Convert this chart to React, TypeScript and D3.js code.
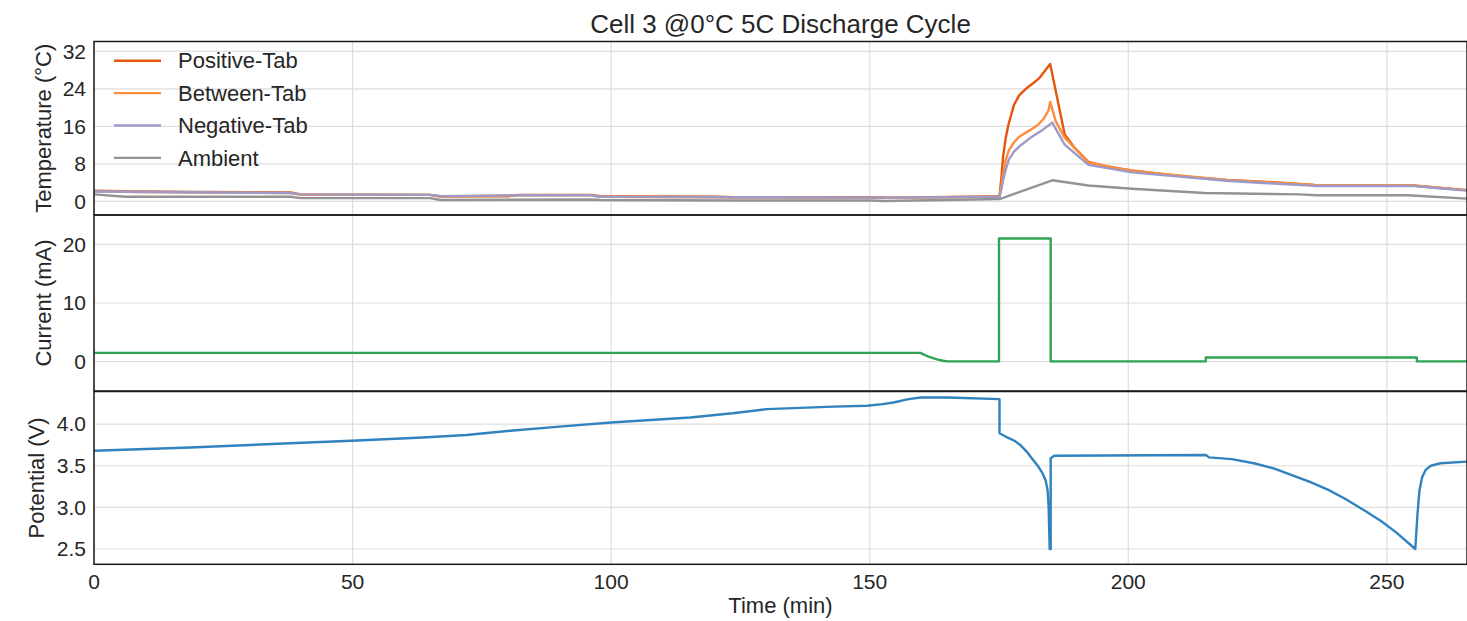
import React from "react";
import * as d3 from "d3";

// ---- data (time in minutes) ----
const timeTicks = [0, 50, 100, 150, 200, 250];
const tempTicks = [0, 8, 16, 24, 32];
const currentTicks = [0, 10, 20];
const potentialTicks = [2.5, 3.0, 3.5, 4.0];

const positiveTab: [number, number][] = [
  [0, 2.3], [8, 2.1], [20, 2.0], [38, 1.9], [40, 1.5], [65, 1.4], [67, 1.1], [80, 1.1], [82, 1.4],
  [96, 1.4], [98, 1.1], [120, 1.0], [124, 0.9], [150, 0.9], [153, 0.8], [170, 1.0], [175.1, 1.1],
  [175.5, 5.5], [175.8, 9.6], [176.3, 13.5], [176.9, 16.7], [177.9, 20.6], [178.9, 22.6],
  [180.4, 24.2], [181.6, 25.2], [182.8, 26.3], [184.2, 28.3], [184.9, 29.3], [187.7, 14.3],
  [189.5, 11.6], [192.3, 8.4], [196, 7.4], [200.7, 6.6], [210, 5.4], [219, 4.6], [228, 4.1],
  [236, 3.5], [250, 3.4], [255, 3.4], [260, 2.9], [265.5, 2.4],
];

const betweenTab: [number, number][] = [
  [0, 2.2], [8, 2.0], [38, 1.8], [40, 1.4], [65, 1.4], [67, 1.0], [82, 1.3], [96, 1.3], [98, 1.0],
  [124, 0.9], [153, 0.8], [175.1, 1.0], [175.5, 3.5], [175.8, 6.0], [176.3, 8.8], [176.9, 10.9],
  [177.9, 12.6], [178.9, 13.8], [181, 15.2], [182.5, 16.3], [183.7, 17.7], [184.6, 19.5],
  [184.9, 21.2], [186, 17.0], [187.7, 13.6], [192.3, 8.3], [200.7, 6.5], [219, 4.6], [236, 3.5],
  [255, 3.4], [260, 2.9], [265.5, 2.4],
];

const negativeTab: [number, number][] = [
  [0, 2.1], [38, 1.8], [40, 1.5], [65, 1.4], [67, 1.1], [82, 1.3], [96, 1.3], [98, 1.0], [124, 0.9],
  [153, 0.8], [175.1, 1.0], [175.5, 2.8], [175.8, 4.5], [176.3, 6.8], [176.9, 8.9], [177.9, 10.6],
  [178.9, 11.7], [181, 13.5], [183.5, 15.3], [185.3, 16.8], [187.7, 12.1], [192.3, 7.8],
  [200.7, 6.2], [219, 4.4], [236, 3.3], [255, 3.3], [260, 2.8], [265.5, 2.3],
];

const ambient: [number, number][] = [
  [0, 1.5], [6, 1.0], [38, 1.0], [40, 0.7], [65, 0.7], [67, 0.3], [96, 0.4], [98, 0.3], [124, 0.2],
  [150, 0.2], [153, 0.1], [170, 0.4], [175.1, 0.5], [185.3, 4.5], [192.3, 3.4], [200.7, 2.7],
  [214.7, 1.8], [233, 1.5], [236.4, 1.3], [254, 1.3], [265.5, 0.6],
];

const current: [number, number][] = [
  [0, 1.5], [159.8, 1.5], [160.5, 1.2], [161.5, 0.8], [163, 0.4], [164.2, 0.15], [165, 0.05],
  [175, 0.05], [175, 21], [185, 21], [185, 0.05], [215, 0.05], [215, 0.7], [255.8, 0.7],
  [255.8, 0.05], [265.5, 0.05],
];

const potential: [number, number][] = [
  [0, 3.68], [18.6, 3.72], [37.9, 3.77], [49.8, 3.8], [63.6, 3.84], [72, 3.87], [80.5, 3.92],
  [90, 3.97], [100, 4.02], [115.3, 4.08], [123.5, 4.13], [130.1, 4.18], [143, 4.21], [149.5, 4.22],
  [152.5, 4.24], [154.6, 4.26], [157.5, 4.3], [159.9, 4.32], [165.1, 4.32], [175.1, 4.3],
  [175.1, 3.89], [176.6, 3.84], [178, 3.8], [179.1, 3.75], [180.5, 3.66], [181.6, 3.57],
  [182.6, 3.49], [183.4, 3.41], [184, 3.33], [184.4, 3.21], [184.6, 3.0], [184.8, 2.5], [185, 2.5],
  [185, 3.59], [185.7, 3.62], [215, 3.63], [215.6, 3.6], [220, 3.58], [224.3, 3.53], [228, 3.47],
  [231.5, 3.39], [235, 3.31], [238.7, 3.21], [242, 3.1], [246, 2.95], [249, 2.83], [251.8, 2.7],
  [255.5, 2.5], [255.9, 2.9], [256.3, 3.2], [256.8, 3.36], [257.5, 3.45], [258.5, 3.5],
  [260.4, 3.53], [265.5, 3.55],
];

const tempSeries = [
  { name: "Positive-Tab", color: "#e6550d", values: positiveTab },
  { name: "Between-Tab", color: "#fd8d3c", values: betweenTab },
  { name: "Negative-Tab", color: "#9e9ac8", values: negativeTab },
  { name: "Ambient", color: "#939393", values: ambient },
];

// ---- layout ----
const W = 1467;
const H = 621;
const LEFT = 94;
const RIGHT = 1467;
const FONT = "'Liberation Sans', Arial, sans-serif";
const TEXT = "#262626";
const GRID = "#dedede";
const TICK_FS = 21;
const LABEL_FS = 22;

const x = d3.scaleLinear().domain([0, 265.5]).range([LEFT, RIGHT]);

const panels = [
  { key: "temp", top: 41.5, bottom: 215, domain: [-2.9, 34.1], ticks: tempTicks, fmt: (v: number) => String(v), label: "Temperature (°C)", labelX: 43 },
  { key: "cur", top: 215, bottom: 391, domain: [-5, 25], ticks: currentTicks, fmt: (v: number) => String(v), label: "Current (mA)", labelX: 43 },
  { key: "pot", top: 391.5, bottom: 564.3, domain: [2.316, 4.392], ticks: potentialTicks, fmt: (v: number) => v.toFixed(1), label: "Potential (V)", labelX: 36 },
];

export default function App() {
  const scales = panels.map((p) => d3.scaleLinear().domain(p.domain).range([p.bottom, p.top]));
  const lineFor = (y: d3.ScaleLinear<number, number>) =>
    d3.line<[number, number]>().x((d) => x(d[0])).y((d) => y(d[1]));

  return (
    <svg width={W} height={H} style={{ position: "absolute", left: 0, top: 0, background: "#fff" }} fontFamily={FONT}>
      <defs>
        {panels.map((p) => (
          <clipPath id={`clip-${p.key}`} key={p.key}>
            <rect x={LEFT} y={p.top} width={RIGHT - LEFT} height={p.bottom - p.top} />
          </clipPath>
        ))}
      </defs>

      <text x={(LEFT + RIGHT) / 2} y={33} textAnchor="middle" fontSize={26} fill={TEXT}>
        Cell 3 @0°C 5C Discharge Cycle
      </text>

      {panels.map((p, i) => {
        const y = scales[i];
        return (
          <g key={p.key}>
            {/* grid */}
            {timeTicks.map((t) => (
              <line key={`vx${t}`} x1={x(t)} x2={x(t)} y1={p.top} y2={p.bottom} stroke={GRID} strokeWidth={1.2} />
            ))}
            {p.ticks.map((v) => (
              <line key={`hy${v}`} x1={LEFT} x2={RIGHT} y1={y(v)} y2={y(v)} stroke={GRID} strokeWidth={1.2} />
            ))}
            {/* y tick labels */}
            {p.ticks.map((v) => (
              <text key={`ty${v}`} x={LEFT - 8} y={y(v)} dy="0.35em" textAnchor="end" fontSize={TICK_FS} fill={TEXT}>
                {p.fmt(v)}
              </text>
            ))}
            <text
              transform={`translate(${p.labelX},${(p.top + p.bottom) / 2}) rotate(-90)`}
              textAnchor="middle"
              dy="0.35em"
              fontSize={LABEL_FS}
              fill={TEXT}
            >
              {p.label}
            </text>
          </g>
        );
      })}

      {/* temperature lines */}
      <g clipPath="url(#clip-temp)">
        {tempSeries.map((s) => (
          <path key={s.name} d={lineFor(scales[0])(s.values) || ""} fill="none" stroke={s.color} strokeWidth={2.4} strokeLinejoin="round" />
        ))}
      </g>
      {/* current */}
      <g clipPath="url(#clip-cur)">
        <path d={lineFor(scales[1])(current) || ""} fill="none" stroke="#31a354" strokeWidth={2.4} strokeLinejoin="round" />
      </g>
      {/* potential */}
      <g clipPath="url(#clip-pot)">
        <path d={lineFor(scales[2])(potential) || ""} fill="none" stroke="#3182bd" strokeWidth={2.4} strokeLinejoin="round" />
      </g>

      {/* legend */}
      {tempSeries.map((s, i) => {
        const ly = 60.7 + i * 32.4;
        return (
          <g key={`leg${s.name}`}>
            <line x1={114} x2={161} y1={ly} y2={ly} stroke={s.color} strokeWidth={2.4} />
            <text x={178} y={ly} dy="0.35em" fontSize={LABEL_FS} fill={TEXT}>
              {s.name}
            </text>
          </g>
        );
      })}

      {/* frames */}
      {panels.map((p) => (
        <rect key={`f${p.key}`} x={LEFT} y={p.top} width={RIGHT - LEFT} height={p.bottom - p.top} fill="none" stroke="#1a1a1a" strokeWidth={1.5} />
      ))}

      {/* x axis */}
      {timeTicks.map((t) => (
        <text key={`tx${t}`} x={x(t)} y={589} textAnchor="middle" fontSize={TICK_FS} fill={TEXT}>
          {t}
        </text>
      ))}
      <text x={(LEFT + RIGHT) / 2} y={613} textAnchor="middle" fontSize={LABEL_FS} fill={TEXT}>
        Time (min)
      </text>
    </svg>
  );
}
